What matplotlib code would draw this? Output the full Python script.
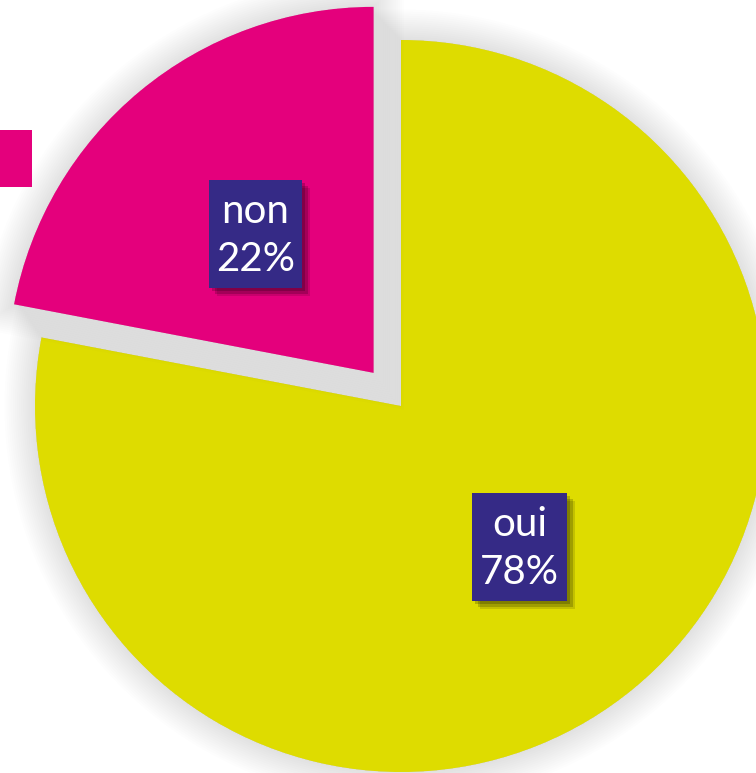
import matplotlib
matplotlib.use('Agg')
import matplotlib.pyplot as plt
import matplotlib.patches as mpatches
import matplotlib.patheffects as pe

labels = ['non', 'oui']
values = [22, 78]
colours = ['#E4007C', '#DEDC00']
box_colour = '#352A86'

W, H = 756, 773
fig = plt.figure(figsize=(W / 100, H / 100), dpi=100)
ax = fig.add_axes([0, 0, 1, 1])

# soft grey halo standing in for the blurred drop shadow
halo = [pe.Stroke(linewidth=lw, foreground='#000000', alpha=0.007) for lw in range(44, 0, -3)]
halo.append(pe.Normal())

cx, cy, r = 401, H - 406, 366
wedges, _ = ax.pie(values, colors=colours, startangle=90, counterclock=True,
                   center=(cx, cy), radius=r, explode=[43, 0],
                   wedgeprops=dict(linewidth=0))
for w in wedges:
    w.set_path_effects(halo)
wedges[0].set_zorder(3)
wedges[1].set_zorder(2)

# label boxes (x, y top-left in px) and their texts
boxes = [(209, 180, 93, 108), (472, 493, 95, 108)]
box_shadow = [pe.SimplePatchShadow(offset=(6, -6), shadow_rgbFace='#000000', alpha=0.12),
              pe.SimplePatchShadow(offset=(4, -4), shadow_rgbFace='#000000', alpha=0.18),
              pe.SimplePatchShadow(offset=(2, -2), shadow_rgbFace='#000000', alpha=0.2),
              pe.Normal()]
for (lab, val, (bx, by, bw, bh)) in zip(labels, values, boxes):
    rect = mpatches.Rectangle((bx, H - by - bh), bw, bh, facecolor=box_colour,
                              edgecolor='none', zorder=5)
    rect.set_path_effects(box_shadow)
    ax.add_patch(rect)
    tx = bx + bw / 2
    ax.text(tx, H - by - bh * 0.29, lab, color='white', fontsize=29, family='Lato',
            ha='center', va='center', zorder=6)
    ax.text(tx, H - by - bh * 0.74, f'{val}%', color='white', fontsize=29, family='Lato',
            ha='center', va='center', zorder=6)

# legend marker cut off at the left edge
ax.add_patch(mpatches.Rectangle((-20, H - 187), 52, 57, facecolor=colours[0],
                                edgecolor='none', zorder=4))

ax.set_xlim(0, W)
ax.set_ylim(0, H)
ax.set_aspect('auto')
ax.axis('off')
fig.savefig('out.png', dpi=100)
